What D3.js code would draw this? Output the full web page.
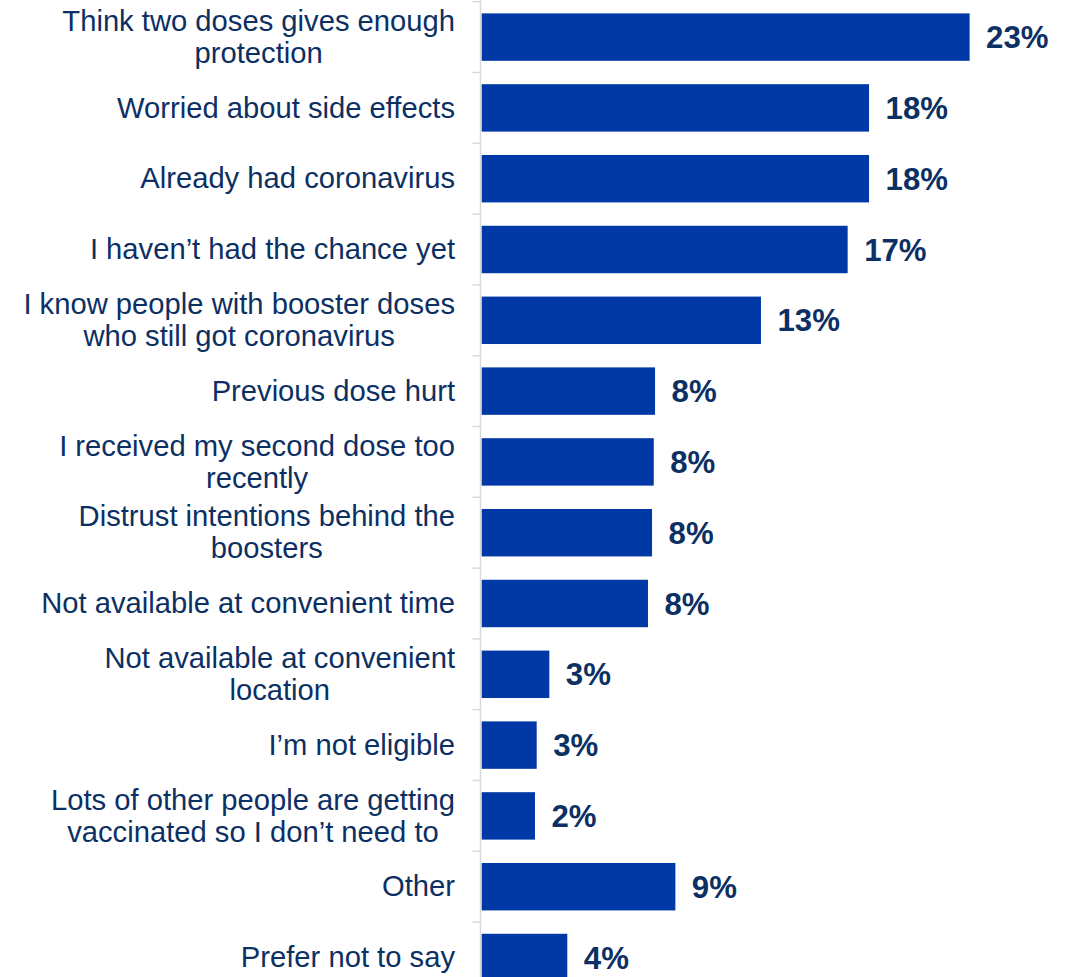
<!DOCTYPE html>
<html>
<head>
<meta charset="utf-8">
<script src="https://cdn.jsdelivr.net/npm/d3@7/dist/d3.min.js"></script>
<style>
  html, body { margin: 0; padding: 0; background: #ffffff; }
  svg { display: block; }
</style>
</head>
<body>
<svg id="chart" width="1071" height="977"></svg>
<script>
// Reasons for not taking a booster dose (share of respondents)
const categories = [
  "Think two doses gives enough\nprotection",
  "Worried about side effects",
  "Already had coronavirus",
  "I haven’t had the chance yet",
  "I know people with booster doses\nwho still got coronavirus",
  "Previous dose hurt",
  "I received my second dose too\nrecently",
  "Distrust intentions behind the\nboosters",
  "Not available at convenient time",
  "Not available at convenient\nlocation",
  "I’m not eligible",
  "Lots of other people are getting\nvaccinated so I don’t need to",
  "Other",
  "Prefer not to say"
];
const values = [
  0.228, 0.181, 0.181, 0.171, 0.1305, 0.081, 0.0804,
  0.0796, 0.0777, 0.0316, 0.0257, 0.0249, 0.0905, 0.040
];

const data = categories.map((c, i) => ({ label: c, value: values[i] }));

const svg = d3.select("#chart");
const axisX = 480.5;
const barX = 481.7;
const textColor = "#0c3063";
const barColor = "#0039a6";

const x = d3.scaleLinear().domain([0, 0.25]).range([barX, barX + 535]);
const y = d3.scaleBand()
  .domain(categories)
  .range([1.7, 1.7 + 70.8 * categories.length])
  .paddingInner(0.33)
  .paddingOuter(0.165);

const step = y.step();
const y0 = y.range()[0];

// category axis: vertical line with ticks at band boundaries
svg.append("line")
  .attr("x1", axisX).attr("x2", axisX)
  .attr("y1", 0).attr("y2", 977)
  .attr("stroke", "#d9d9d9").attr("stroke-width", 1.5);

svg.append("g").selectAll("line")
  .data(d3.range(categories.length + 1))
  .join("line")
  .attr("x1", axisX - 8).attr("x2", axisX)
  .attr("y1", i => y0 + i * step)
  .attr("y2", i => y0 + i * step)
  .attr("stroke", "#d9d9d9").attr("stroke-width", 1.5);

// bars
svg.append("g").selectAll("rect")
  .data(data)
  .join("rect")
  .attr("x", x(0))
  .attr("y", d => y(d.label))
  .attr("width", d => x(d.value) - x(0))
  .attr("height", y.bandwidth())
  .attr("fill", barColor);

// value labels
const pct = v => Math.round(v * 100) + "%";
svg.append("g").selectAll("text")
  .data(data)
  .join("text")
  .attr("x", d => x(d.value) + 16.5)
  .attr("y", d => y(d.label) + y.bandwidth() / 2 + 11)
  .attr("fill", textColor)
  .attr("font-family", "'Liberation Sans', Arial, sans-serif")
  .attr("font-size", 31.2)
  .attr("font-weight", "bold")
  .text(d => pct(d.value));

// category labels, right-aligned block with centred lines
const labelRight = 455;
const lineH = 32;
const labels = svg.append("g")
  .attr("font-family", "'Liberation Sans', Arial, sans-serif")
  .attr("font-size", 29.2)
  .attr("fill", textColor);

data.forEach(d => {
  const lines = d.label.split("\n");
  const cy = y(d.label) + y.bandwidth() / 2;
  const base = cy + 9.7 - (lines.length - 1) * lineH / 2;
  const t = labels.append("text");
  const spans = lines.map((ln, i) =>
    t.append("tspan").attr("y", base + i * lineH).text(ln)
  );
  if (lines.length === 1) {
    t.attr("text-anchor", "end");
    spans[0].attr("x", labelRight);
  } else {
    const w = d3.max(spans, s => s.node().getComputedTextLength());
    t.attr("text-anchor", "middle");
    spans.forEach(s => s.attr("x", labelRight - w / 2));
  }
});
</script>
</body>
</html>
